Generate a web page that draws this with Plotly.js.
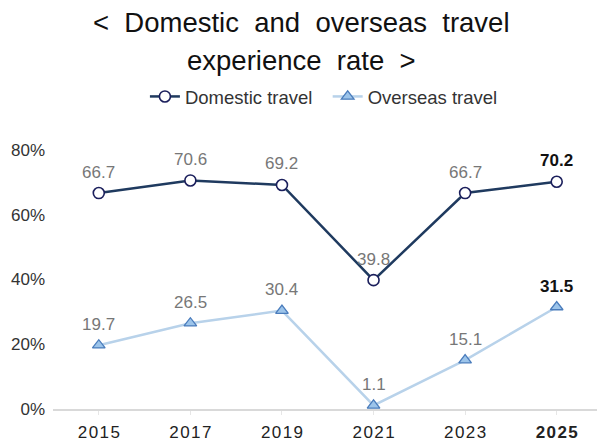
<!DOCTYPE html>
<html><head><meta charset="utf-8">
<script src="https://cdn.plot.ly/plotly-3.0.1.min.js"></script>
<style>html,body{margin:0;padding:0;background:#fff}#c{width:597px;height:446px}</style>
</head><body><div id="c"></div>
<script>
const years = ['2015','2017','2019','2021','2023','2025'];
const yearLabels = ['2\u200A0\u200A1\u200A5','2\u200A0\u200A1\u200A7','2\u200A0\u200A1\u200A9','2\u200A0\u200A2\u200A1','2\u200A0\u200A2\u200A3','<b>2\u200A0\u200A2\u200A5</b>'];
const domestic = [66.7, 70.6, 69.2, 39.8, 66.7, 70.2];
const overseas = [19.7, 26.5, 30.4, 1.1, 15.1, 31.5];
const yTicks = [0, 20, 40, 60, 80];
const yTickText = ['0%', '20%', '40%', '60%', '80%'];
const titleLines = ['<\u00A0 Domestic\u00A0 and\u00A0 overseas\u00A0 travel', 'experience\u00A0 rate\u00A0 >'];

const FONT = 'Liberation Sans, Arial, sans-serif';

function labelAnns(arr){
  return arr.map((v,i)=>{
    const last = i===arr.length-1;
    return {
      x: i, y: v, xref: 'x', yref: 'y', showarrow: false,
      text: last ? '<b>'+v.toFixed(1)+'</b>' : v.toFixed(1),
      yshift: 21,
      font: {family: FONT, size: 17, color: last ? '#111' : '#777'}
    };
  });
}

const traces = [
  {
    x: years, y: domestic, name: 'Domestic travel\u00A0\u00A0', type: 'scatter', mode: 'lines+markers',
    line: {color: '#1f3a5f', width: 2.5},
    marker: {symbol: 'circle', size: 11, color: '#ffffff', line: {color: '#1b1f5c', width: 1.6}},
    cliponaxis: false
  },
  {
    x: years, y: overseas, name: 'Overseas travel', type: 'scatter', mode: 'lines+markers',
    line: {color: '#b8d2ea', width: 2.5},
    marker: {symbol: 'triangle-up', size: 11, color: '#9cc4ea', line: {color: '#4a7cbc', width: 1.3}},
    cliponaxis: false
  }
];

const annotations = [
  {text: titleLines[0], xref: 'paper', yref: 'paper', x: 0.456, y: 1.494, showarrow: false,
   xanchor: 'center', yanchor: 'middle', font: {family: FONT, size: 27.5, color: '#111'}},
  {text: titleLines[1], xref: 'paper', yref: 'paper', x: 0.456, y: 1.347, showarrow: false,
   xanchor: 'center', yanchor: 'middle', font: {family: FONT, size: 27.5, color: '#111'}}
].concat(labelAnns(domestic), labelAnns(overseas));

const layout = {
  width: 597, height: 446,
  margin: {l: 53, r: 0, t: 150, b: 37},
  paper_bgcolor: '#fff', plot_bgcolor: '#fff',
  font: {family: FONT, color: '#333'},
  showlegend: true,
  legend: {
    orientation: 'h', x: 0.498, xanchor: 'center', y: 1.205, yanchor: 'middle',
    font: {size: 18.5, color: '#333'}, itemwidth: 30, tracegroupgap: 0
  },
  annotations: annotations,
  xaxis: {
    type: 'category', range: [-0.5, 5.44],
    tickvals: years, ticktext: yearLabels,
    tickfont: {size: 17, color: '#222'},
    showgrid: false, zeroline: false,
    showline: true, linecolor: '#d9d9d9', linewidth: 1.5,
    ticks: 'outside', ticklen: 4, tickcolor: '#e6e6e6', ticklabelstandoff: 3
  },
  yaxis: {
    range: [0, 80], tickvals: yTicks, ticktext: yTickText,
    tickfont: {size: 17, color: '#333'},
    showgrid: false, zeroline: false, showline: false, ticks: '', ticklabelstandoff: 7
  }
};

Plotly.newPlot('c', traces, layout, {displayModeBar: false, staticPlot: true});
</script>
</body></html>
